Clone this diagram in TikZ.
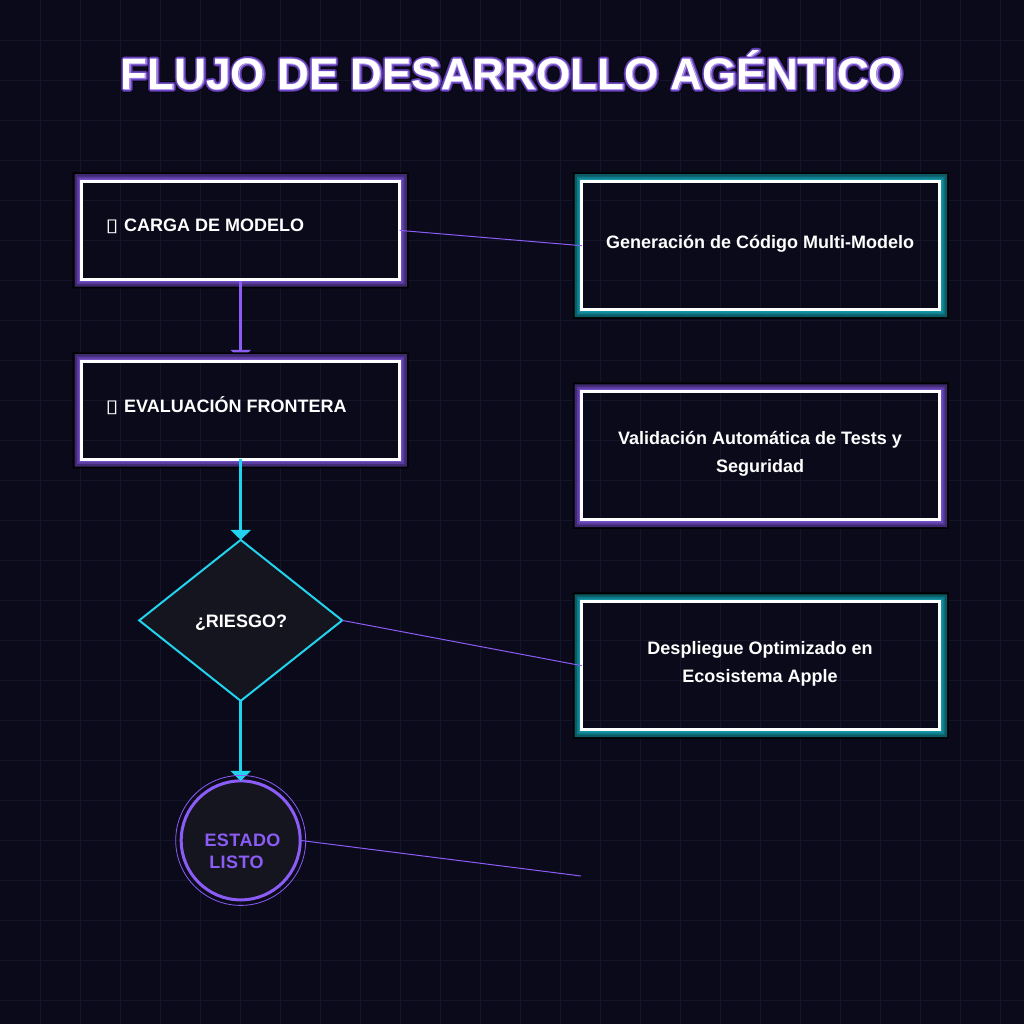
\documentclass[tikz,border=0pt]{standalone}
\usepackage{fontspec}
\setmainfont{Liberation Sans}
\newfontfamily\symfont{DejaVu Sans}
\newfontface\cardfont{Liberation Sans Bold}
\newfontface\readyfont[LetterSpace=2.5]{Liberation Sans Bold}
\usetikzlibrary{arrows.meta,backgrounds,positioning,shapes.geometric}

\definecolor{pagebg}{HTML}{0A0A1A}
\definecolor{gridline}{HTML}{15152A}
\definecolor{panel}{HTML}{151520}
\definecolor{violet}{HTML}{8B5CF6}
\definecolor{cyanline}{HTML}{22D3EE}
\definecolor{violetdark}{HTML}{3F2A72}
\definecolor{violetmid}{HTML}{5A3C9E}
\definecolor{violetlight}{HTML}{7550C8}
\definecolor{tealdark}{HTML}{0B5A65}
\definecolor{tealmid}{HTML}{0F7A88}
\definecolor{teallight}{HTML}{1596A8}

\newcommand{\titletext}{FLUJO DE DESARROLLO AGÉNTICO}
\newcommand{\titleline}[2]{\special{pdf:code q 1 Tr #1 w 1 j #2 RG}\rlap{\titletext}\special{pdf:code Q}}
\newcommand{\tofu}{\scalebox{1.3}[1]{\symfont\char"25AF}}
\newcommand{\ringband}[3]{%
    \fill[#2, even odd rule] ([shift={(-#3,-#3)}]#1.north west) rectangle ([shift={(#3,#3)}]#1.south east)
        (#1.north west) rectangle (#1.south east);
}
\newcommand{\glowring}[2]{%
    \ringband{#1}{black}{9}
    \ringband{#1}{#2dark}{7.2}
    \ringband{#1}{#2mid}{4.7}
    \ringband{#1}{#2light}{2.7}
}

\begin{document}
\begin{tikzpicture}[%
        x=1pt,
        y=-1pt,
        node distance=180pt,
        on grid,
        stepbox/.style={draw=white, line width=3pt, outer sep=0pt, inner sep=0pt,
            minimum width=318pt, minimum height=98pt},
        cardbox/.style={draw=white, line width=3pt, outer sep=0pt, inner sep=0pt,
            minimum width=358pt, minimum height=128.5pt},
        steptext/.style={anchor=base west, text=white, inner sep=0pt, font=\cardfont\fontsize{18}{22}\selectfont},
        cardtext/.style={text=white, inner sep=0pt, align=center, font=\cardfont\fontsize{18}{28}\selectfont},
        flow/.style={line width=3pt, -{Triangle[width=20pt,length=10pt]}},
        link/.style={violet, line width=1pt}
        ]
        \useasboundingbox (0,0) rectangle (1024,1024);
        \begin{scope}[on background layer]
            \fill[pagebg] (0,0) rectangle (1024,1024);
            \foreach \k in {1,...,25} {
                \draw[gridline, line width=1pt] (40*\k+.5,0) -- (40*\k+.5,1024);
                \draw[gridline, line width=1pt] (0,40*\k+.5) -- (1024,40*\k+.5);
            }
        \end{scope}

        \node[text=white, font=\cardfont\fontsize{44}{50}\selectfont] (title) at (512,70) {%
            \titleline{6.4}{0 0 0}%
            \titleline{5.2}{.27 .17 .5}%
            \titleline{3.6}{.42 .27 .75}%
            \titleline{1}{.72 .62 .95}%
            \titletext};

        \node[stepbox] (load) at (240.7,230.4) {};
        \node[stepbox, below=180pt of load] (eval) {};
        \node[diamond, draw=cyanline, fill=panel, line width=2pt, inner sep=0pt, outer sep=0pt,
            minimum width=203pt, minimum height=161pt, aspect=1.26, below=210pt of eval] (risk) {};
        \node[circle, draw=violet, fill=panel, line width=3pt, inner sep=0pt, outer sep=0pt,
            minimum size=119pt, below=220pt of risk] (ready) {};

        \node[cardbox] (gen) at (760.8,245.7) {};
        \node[cardbox, below=210pt of gen] (val) {};
        \node[cardbox, below=210pt of val] (apple) {};
        \coordinate (free) at (581,876);

        \node[steptext] (loadtext) at (105.5,232) {\tofu\hspace{5.5pt}CARGA DE MODELO};
        \node[steptext] (evaltext) at (105.5,412) {\tofu\hspace{5.5pt}EVALUACIÓN FRONTERA};
        \node[cardtext] (gentext) at (760,244) {Generación de Código Multi-Modelo};
        \node[cardtext] (valtext) at (760,454) {Validación Automática de Tests y\\Seguridad};
        \node[cardtext] (appletext) at (760,664) {Despliegue Optimizado en\\Ecosistema Apple};
        \node[text=white, inner sep=0pt, font=\cardfont\fontsize{18}{22}\selectfont] (risktext) at (241,623) {¿RIESGO?};
        \node[text=violet, inner sep=0pt, align=center, font=\readyfont\fontsize{18}{22}\selectfont] (readytext) at (242.5,851) {ESTADO\\LISTO\hspace*{12pt}};

        \begin{scope}[on background layer]
            \glowring{load}{violet}
            \draw[flow, violet, shorten >=1.5pt] (load.south) -- (eval.north);
            \glowring{eval}{violet}
            \glowring{gen}{teal}
            \glowring{val}{violet}
            \glowring{apple}{teal}
        \end{scope}

        \draw[flow, cyanline] (eval.south) -- (risk.north);
        \draw[flow, cyanline] (risk.south) -- (ready.north);
        \draw[violet, line width=.8pt] (ready.center) circle (65pt);

        \draw[link] (load.east) -- (gen.west);
        \draw[link] (risk.east) -- (apple.west);
        \draw[link] (ready.east) -- (free);
    \end{tikzpicture}
\end{document}
